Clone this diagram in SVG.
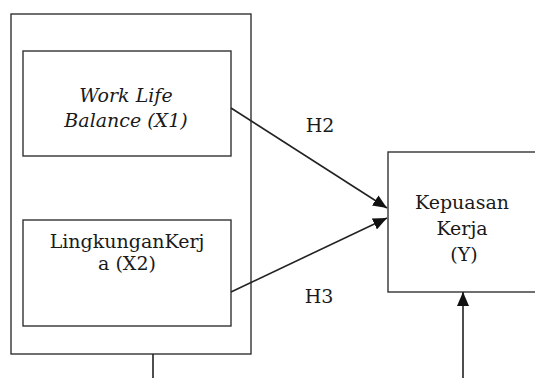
<svg xmlns="http://www.w3.org/2000/svg" width="535" height="378" viewBox="0 0 535 378">
<style>
.box{fill:#fff;stroke:#333;stroke-width:1.4}
.t{font-family:"DejaVu Serif","Liberation Serif",serif;font-size:19px;fill:#1a1a1a;text-anchor:middle}
.i{font-style:italic}
.c{stroke:#222;stroke-width:1.6;fill:none}
</style>
<defs>
<marker id="ah" viewBox="0 0 14 12" refX="14" refY="6" markerWidth="14" markerHeight="12" markerUnits="userSpaceOnUse" orient="auto">
<path d="M0,0 L14,6 L0,12 z" fill="#111"/>
</marker>
</defs>
<rect width="535" height="378" fill="#fff"/>
<g id="group-x">
<rect class="box" x="11" y="14" width="240" height="340"/>
</g>
<g id="x1">
<rect class="box" x="23" y="51" width="208" height="105"/>
<text class="t i" x="126" y="102">Work Life</text>
<text class="t i" x="126" y="127">Balance (X1)</text>
</g>
<g id="x2">
<rect class="box" x="23" y="220" width="208" height="106"/>
<text class="t" x="127" y="248">LingkunganKerj</text>
<text class="t" x="127" y="270">a (X2)</text>
</g>
<g id="y">
<rect class="box" x="388" y="152" width="170" height="140"/>
<text class="t" x="462" y="209">Kepuasan</text>
<text class="t" x="462" y="235">Kerja</text>
<text class="t" x="464" y="261">(Y)</text>
</g>
<g id="connectors">
<line class="c" x1="231" y1="108" x2="387" y2="208" marker-end="url(#ah)"/>
<line class="c" x1="231" y1="292" x2="387" y2="218" marker-end="url(#ah)"/>
<line class="c" x1="463" y1="378" x2="463" y2="292" marker-end="url(#ah)"/>
<line class="c" x1="153" y1="354" x2="153" y2="378"/>
<text class="t" x="320" y="132">H2</text>
<text class="t" x="319" y="303">H3</text>
</g>
</svg>
